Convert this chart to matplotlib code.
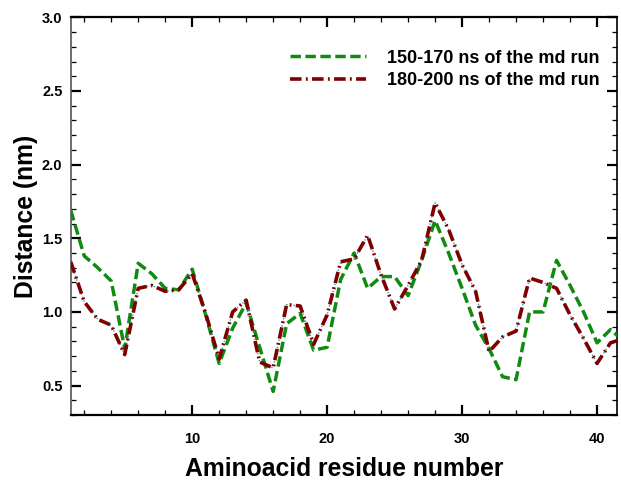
import matplotlib
matplotlib.use("Agg")
import matplotlib.pyplot as plt
from matplotlib.ticker import MultipleLocator

plt.rcParams['font.family'] = ['Liberation Sans', 'DejaVu Sans']

residues = list(range(1, 43))
green_150_170 = [1.69, 1.38, 1.30, 1.21, 0.75, 1.33, 1.26, 1.16, 1.15, 1.29,
                 0.98, 0.65, 0.89, 1.06, 0.76, 0.46, 0.92, 0.99, 0.74, 0.76,
                 1.22, 1.40, 1.16, 1.24, 1.24, 1.11, 1.35, 1.62, 1.40, 1.16,
                 0.91, 0.75, 0.56, 0.54, 1.00, 1.00, 1.35, 1.18, 1.00, 0.79,
                 0.88, 0.80]
red_180_200 = [1.34, 1.07, 0.95, 0.91, 0.71, 1.16, 1.18, 1.14, 1.15, 1.26,
               0.99, 0.68, 1.00, 1.08, 0.66, 0.62, 1.05, 1.04, 0.78, 0.98,
               1.34, 1.36, 1.52, 1.25, 1.02, 1.18, 1.35, 1.74, 1.56, 1.32,
               1.14, 0.73, 0.83, 0.87, 1.23, 1.20, 1.16, 0.98, 0.82, 0.65,
               0.79, 0.82]
labels = ["150-170 ns of the md run", "180-200 ns of the md run"]

fig = plt.figure(figsize=(6.21, 4.82), dpi=100)
ax = fig.add_axes([0.1139, 0.139, 0.994 - 0.1139, 0.964 - 0.139])

ax.plot(residues, green_150_170, color='#118a11', lw=2.5, dashes=(3, 1.3),
        label=labels[0], zorder=3)
ax.plot(residues, red_180_200, color='#2aa0b0', lw=1.0, ls=':', zorder=3.5)
ax.plot(residues, red_180_200, color='#800000', lw=2.6,
        dashes=(3.2, 1.2, 0.5, 1.2), label=labels[1], zorder=4)

ax.set_xlim(1, 41.5)
ax.set_ylim(0.3, 3.0)
ax.xaxis.set_major_locator(MultipleLocator(10))
ax.xaxis.set_minor_locator(MultipleLocator(2))
ax.yaxis.set_major_locator(MultipleLocator(0.5))
ax.yaxis.set_minor_locator(MultipleLocator(0.1))

ax.tick_params(which='both', direction='in', top=True, right=True)
ax.tick_params(which='major', length=7, width=1.6, labelsize=10.5, pad=6)
ax.tick_params(which='minor', length=3.5, width=0.9)
ax.tick_params(axis='x', which='major', pad=12)
for lab in ax.get_xticklabels() + ax.get_yticklabels():
    lab.set_fontweight('bold')

for s in ['bottom', 'top']:
    ax.spines[s].set_linewidth(1.6)
for s in ['left', 'right']:
    ax.spines[s].set_linewidth(1.2)
ax.spines['left'].set_color('#555555')

ax.set_xlabel("Aminoacid residue number", fontsize=17.8, fontweight='bold', labelpad=8)
ax.set_ylabel("Distance (nm)", fontsize=17.8, fontweight='bold', labelpad=3)

ax.legend(loc='upper left', bbox_to_anchor=(0.371, 0.96), frameon=False,
          prop={'weight': 'bold', 'size': 13},
          handlelength=4.2, handletextpad=1.17, labelspacing=0.3)

fig.savefig("out.png", dpi=100)
